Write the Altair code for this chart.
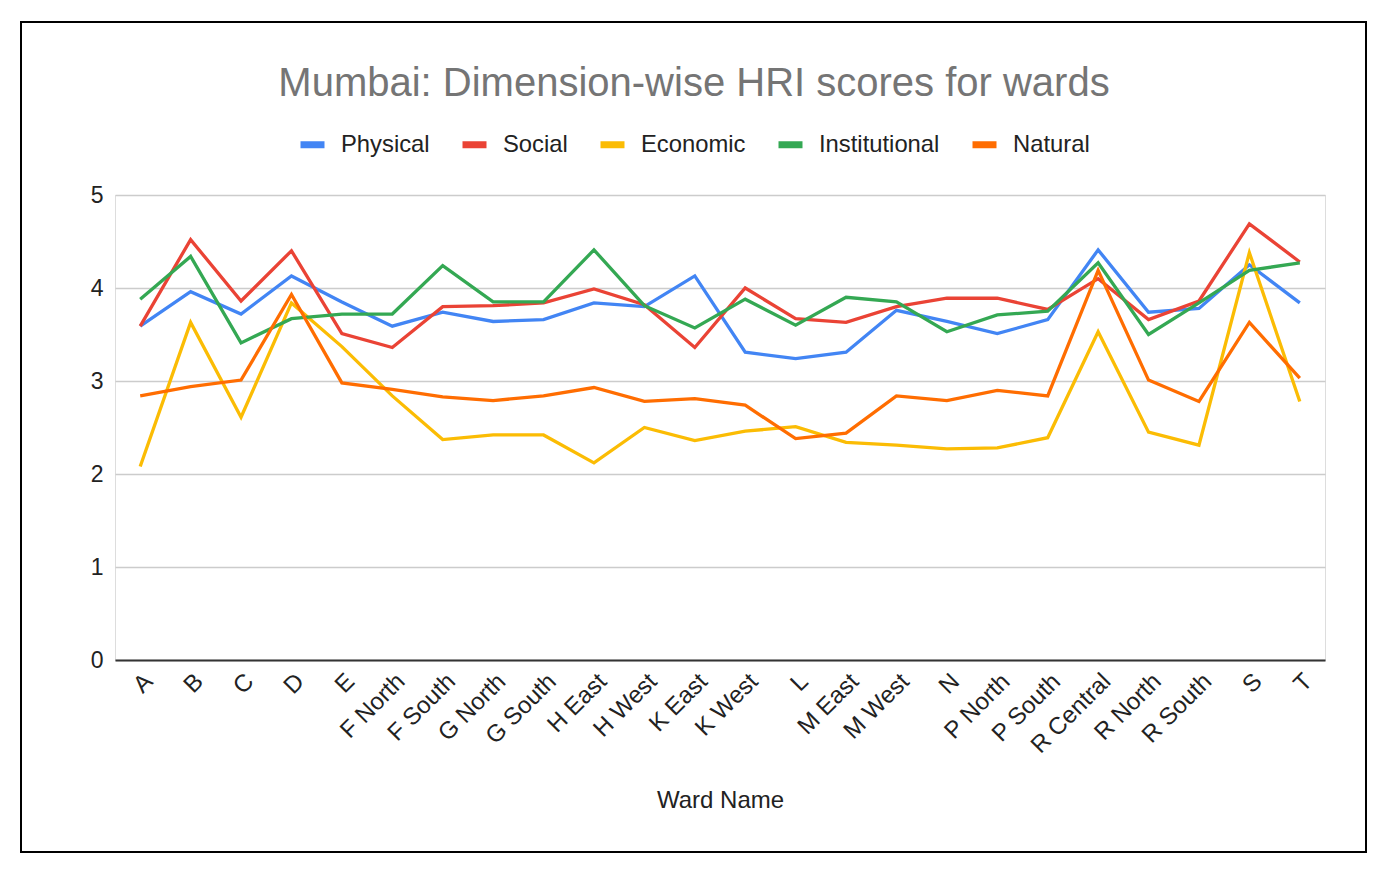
import altair as alt
import pandas as pd

wards = ["A", "B", "C", "D", "E", "F North", "F South", "G North", "G South",
         "H East", "H West", "K East", "K West", "L", "M East", "M West", "N",
         "P North", "P South", "R Central", "R North", "R South", "S", "T"]

physical = [3.59, 3.96, 3.72, 4.13, 3.85, 3.59, 3.74, 3.64, 3.66, 3.84, 3.80, 4.13,
            3.31, 3.24, 3.31, 3.76, 3.64, 3.51, 3.66, 4.41, 3.74, 3.78, 4.25, 3.84]
social = [3.59, 4.52, 3.86, 4.40, 3.51, 3.36, 3.80, 3.81, 3.84, 3.99, 3.82, 3.36,
          4.00, 3.67, 3.63, 3.80, 3.89, 3.89, 3.77, 4.10, 3.66, 3.86, 4.69, 4.28]
economic = [2.08, 3.63, 2.61, 3.84, 3.37, 2.84, 2.37, 2.42, 2.42, 2.12, 2.50, 2.36,
            2.46, 2.51, 2.34, 2.31, 2.27, 2.28, 2.39, 3.53, 2.45, 2.31, 4.38, 2.78]
institutional = [3.88, 4.34, 3.41, 3.67, 3.72, 3.72, 4.24, 3.85, 3.85, 4.41, 3.81, 3.57,
                 3.88, 3.60, 3.90, 3.85, 3.53, 3.71, 3.75, 4.27, 3.50, 3.84, 4.19, 4.27]
natural = [2.84, 2.94, 3.01, 3.93, 2.98, 2.91, 2.83, 2.79, 2.84, 2.93, 2.78, 2.81,
           2.74, 2.38, 2.44, 2.84, 2.79, 2.90, 2.84, 4.19, 3.01, 2.78, 3.63, 3.03]

series_names = ["Physical", "Social", "Economic", "Institutional", "Natural"]
series_values = [physical, social, economic, institutional, natural]
colors = ["#4285F4", "#EA4335", "#FBBC04", "#34A853", "#FF6D01"]

rows = []
for name, vals in zip(series_names, series_values):
    for w, v in zip(wards, vals):
        rows.append({"Ward Name": w, "Dimension": name, "Score": v})
df = pd.DataFrame(rows)

FONT = "Liberation Sans"

x_enc = alt.X("Ward Name:N", sort=wards,
              scale=alt.Scale(type="point", padding=0.5),
              axis=alt.Axis(labelAngle=-45, labelAlign="right", labelBaseline="top",
                            labelPadding=9, labelFontSize=24, labelColor="#222222",
                            labelFont=FONT, labelOverlap=False, ticks=False,
                            domain=True, domainColor="#333333", domainWidth=2,
                            grid=False, title="Ward Name", titleFont=FONT,
                            titleFontSize=24, titleFontWeight="normal",
                            titleColor="#222222", titleY=140, titleBaseline="middle"))
y_enc = alt.Y("Score:Q", scale=alt.Scale(domain=[0, 5], nice=False),
              axis=alt.Axis(values=[0, 1, 2, 3, 4, 5], labelFontSize=23,
                            labelColor="#222222", labelFont=FONT, labelPadding=12,
                            ticks=False, domain=False, grid=True,
                            gridColor="#cccccc", gridWidth=1.3, title=None))
color_enc = alt.Color("Dimension:N",
                      scale=alt.Scale(domain=series_names, range=colors),
                      legend=alt.Legend(title=None, orient="none", direction="horizontal",
                                        legendX=182, legendY=-66,
                                        symbolType="stroke", symbolSize=576,
                                        symbolStrokeWidth=7, labelFontSize=23.8,
                                        labelFont=FONT, labelColor="#222222",
                                        labelOffset=13, columnPadding=18,
                                        padding=0, offset=0))

base = alt.Chart(df)
layers = []
for name in series_names:
    layers.append(
        base.transform_filter(alt.datum.Dimension == name)
        .mark_line(strokeWidth=3.3)
        .encode(x=x_enc, y=y_enc, color=color_enc)
    )

frame = alt.Chart(pd.DataFrame({"f": [0]})).mark_rect(
    fill=None, stroke="#000000", strokeWidth=2
).encode(x=alt.value(-94), x2=alt.value(1251), y=alt.value(-173), y2=alt.value(657))

chart = alt.layer(frame, *layers).properties(
    width=1210, height=465,
    title=alt.TitleParams("Mumbai: Dimension-wise HRI scores for wards",
                          fontSize=40, font=FONT, fontWeight="normal",
                          color="#757575", anchor="middle", baseline="alphabetic",
                          offset=-115, dx=-26),
    autosize=alt.AutoSizeParams(type="none"),
    padding={"left": 107, "top": 187, "right": 50, "bottom": 200},
).configure_view(stroke=None).configure(background="white")

chart.save("out.html", embed_options={"renderer": "svg", "actions": False})
